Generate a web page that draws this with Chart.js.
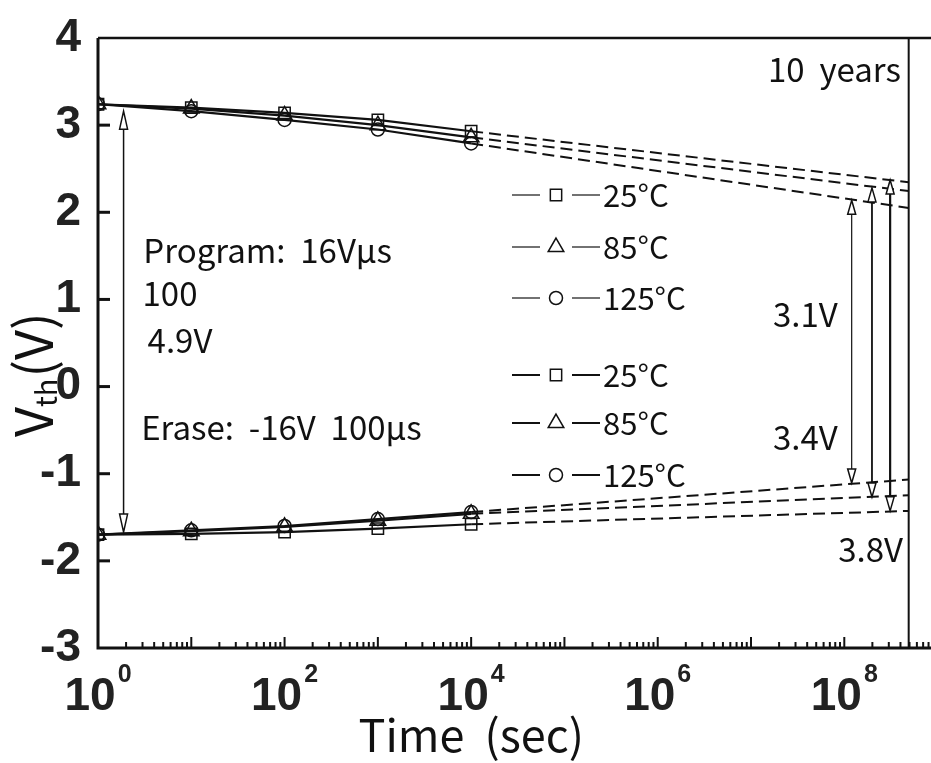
<!DOCTYPE html>
<html><head><meta charset="utf-8">
<script src="https://cdn.jsdelivr.net/npm/chart.js@4.4.1/dist/chart.umd.min.js"></script>
<style>html,body{margin:0;padding:0;background:#fff;overflow:hidden}</style>
</head><body>
<canvas id="c" width="931" height="763"></canvas>
<script>
// ---- data ----
const times = [1, 10, 100, 1000, 10000];
const prog25  = [3.24, 3.20, 3.14, 3.06, 2.93];
const prog85  = [3.24, 3.19, 3.11, 3.00, 2.86];
const prog125 = [3.24, 3.16, 3.06, 2.95, 2.79];
const erase25  = [-1.70, -1.69, -1.67, -1.63, -1.58];
const erase85  = [-1.70, -1.66, -1.61, -1.54, -1.46];
const erase125 = [-1.70, -1.65, -1.60, -1.52, -1.44];
const tenYears = 4.9e8;
const extrapTimes = [10000, tenYears];
const progEnd  = [2.345, 2.243, 2.05];    // 25, 85, 125 C at 10 years
const eraseEnd = [-1.427, -1.247, -1.067];
const gapArrowTimes  = [1.88, 1.2e8, 1.98e8, 3.1e8];
const gapArrowTop    = [3.16, 2.137, 2.28, 2.37];
const gapArrowBottom = [-1.67, -1.106, -1.267, -1.426];
const xTickExponents = ['0', '2', '4', '6', '8'];
const xMax = 8.5e8;
const legendLabels = ['25\u00b0C', '85\u00b0C', '125\u00b0C', '25\u00b0C', '85\u00b0C', '125\u00b0C'];
const notes = [
  {text: 'Program:  16V\u03bcs', t: 3.06, v: 1.42, align: 'left'},
  {text: '100', t: 3.0, v: 0.927, align: 'left'},
  {text: '4.9V', t: 3.4, v: 0.389, align: 'left'},
  {text: 'Erase:  -16V  100\u03bcs', t: 2.9, v: -0.618, align: 'left'},
  {text: '10  years', t: 4.05e8, v: 3.50, align: 'right'},
  {text: '3.1V', t: 1.72e7, v: 0.678, align: 'left'},
  {text: '3.4V', t: 1.72e7, v: -0.732, align: 'left'},
  {text: '3.8V', t: 8.6e7, v: -2.014, align: 'left'}
];

const FONT_TXT = '"Noto Sans CJK KR", "Noto Sans", sans-serif';
const FONT_NUM = '"Liberation Sans", Arial, sans-serif';
const INK = '#111';

function pts(ts, vs) { return ts.map((t, i) => ({x: t, y: vs[i]})); }
const styles = ['rect', 'triangle', 'circle'];
const radii = [8, 9, 6.5];
function solid(vals, k) {
  return {data: pts(times, vals), borderColor: INK, borderWidth: 2.2, pointStyle: styles[k],
    pointRadius: radii[k], pointBorderWidth: 1.5, pointBorderColor: INK,
    pointBackgroundColor: 'rgba(0,0,0,0)', tension: 0};
}
function dashed(v0, v1) {
  return {data: pts(extrapTimes, [v0, v1]), borderColor: INK, borderWidth: 2, borderDash: [12, 6],
    pointRadius: 0, tension: 0};
}
const datasets = [
  solid(prog25, 0), solid(prog85, 1), solid(prog125, 2),
  solid(erase25, 0), solid(erase85, 1), solid(erase125, 2),
  dashed(prog25[4], progEnd[0]), dashed(prog85[4], progEnd[1]), dashed(prog125[4], progEnd[2]),
  dashed(erase25[4], eraseEnd[0]), dashed(erase85[4], eraseEnd[1]), dashed(erase125[4], eraseEnd[2])
];

function arrowHead(ctx, x, tip, dir, L, w) {
  ctx.beginPath();
  ctx.moveTo(x, tip);
  ctx.lineTo(x - w, tip + dir * L);
  ctx.lineTo(x + w, tip + dir * L);
  ctx.closePath();
  ctx.fillStyle = '#fff'; ctx.fill(); ctx.stroke();
}

const decor = {
  id: 'decor',
  afterDatasetsDraw(chart) {
    const ctx = chart.ctx, a = chart.chartArea, xs = chart.scales.x, ys = chart.scales.y;
    ctx.save();
    ctx.strokeStyle = INK; ctx.fillStyle = INK; ctx.lineCap = 'butt';
    // frame
    ctx.lineWidth = 3;
    ctx.beginPath(); ctx.moveTo(a.left, a.top); ctx.lineTo(a.left, a.bottom); ctx.lineTo(a.right, a.bottom); ctx.stroke();
    ctx.lineWidth = 2.5;
    ctx.beginPath(); ctx.moveTo(a.left, a.top); ctx.lineTo(a.right, a.top); ctx.stroke();
    const xt = xs.getPixelForValue(tenYears);
    ctx.lineWidth = 2;
    ctx.beginPath(); ctx.moveTo(xt, a.top); ctx.lineTo(xt, a.bottom); ctx.stroke();
    // y ticks (inward)
    ctx.lineWidth = 3;
    ys.ticks.forEach(t => {
      if (t.value <= ys.min || t.value >= ys.max) return;
      const y = ys.getPixelForValue(t.value);
      ctx.beginPath(); ctx.moveTo(a.left, y); ctx.lineTo(a.left + 12, y); ctx.stroke();
    });
    // x ticks (inward)
    ctx.lineWidth = 2;
    xs.ticks.forEach(t => {
      const v = t.value; if (v <= xs.min) return;
      const lg = Math.log10(v);
      const major = Math.abs(lg - Math.round(lg)) < 1e-6;
      const x = xs.getPixelForValue(v);
      ctx.beginPath(); ctx.moveTo(x, a.bottom); ctx.lineTo(x, a.bottom - (major ? 11 : 6)); ctx.stroke();
    });
    // x tick labels 10^n
    ctx.fillStyle = '#222';
    ctx.textBaseline = 'alphabetic'; ctx.textAlign = 'left';
    xTickExponents.forEach(e => {
      const x = xs.getPixelForValue(Math.pow(10, +e));
      ctx.font = 'bold 46px ' + FONT_NUM;
      const w1 = ctx.measureText('10').width;
      ctx.font = 'bold 25px ' + FONT_NUM;
      const w2 = ctx.measureText(e).width;
      const x0 = x - (w1 + w2 + 2) / 2;
      ctx.font = 'bold 46px ' + FONT_NUM;
      ctx.fillText('10', x0, a.bottom + 62);
      ctx.font = 'bold 25px ' + FONT_NUM;
      ctx.fillText(e, x0 + w1 + 2, a.bottom + 34);
    });
    // axis titles
    ctx.fillStyle = INK;
    ctx.font = '45px ' + FONT_TXT;
    ctx.textAlign = 'center';
    ctx.fillText('Time  (sec)', xs.getPixelForValue(1e4), 752);
    ctx.save();
    ctx.translate(53, 437); ctx.rotate(-Math.PI / 2);
    ctx.textAlign = 'left';
    ctx.font = '52px ' + FONT_TXT;
    const wV = ctx.measureText('V').width;
    ctx.fillText('V', 0, 0);
    ctx.font = '29px ' + FONT_TXT;
    const wth = ctx.measureText('th').width;
    ctx.fillText('th', wV, 4);
    ctx.font = '52px ' + FONT_TXT;
    ctx.fillText('(V)', wV + wth + 1, 0);
    ctx.restore();
    // notes
    ctx.font = '33px ' + FONT_TXT;
    notes.forEach(n => {
      ctx.textAlign = n.align;
      ctx.fillText(n.text, xs.getPixelForValue(n.t), ys.getPixelForValue(n.v));
    });
    // arrows
    gapArrowTimes.forEach((t, i) => {
      const x = xs.getPixelForValue(t);
      const y1 = ys.getPixelForValue(gapArrowTop[i]);
      const y2 = ys.getPixelForValue(gapArrowBottom[i]);
      const L = i === 0 ? 18 : 14, w = 4;
      ctx.lineWidth = i === 0 ? 1.5 : (i === 1 ? 1.2 : (i === 2 ? 1.8 : 2.2));
      ctx.strokeStyle = INK;
      ctx.beginPath(); ctx.moveTo(x, y1 + L); ctx.lineTo(x, y2 - L); ctx.stroke();
      ctx.lineWidth = 1.5;
      arrowHead(ctx, x, y1, 1, L, w);
      arrowHead(ctx, x, y2, -1, L, w);
    });
    // legend
    const rowsY = [195, 247, 298, 375, 423, 475];
    const lx = 512;
    rowsY.forEach((ry, i) => {
      const ds = chart.data.datasets[i];
      ctx.strokeStyle = i < 3 ? '#444' : INK;
      ctx.lineWidth = i < 3 ? 1.5 : 2;
      ctx.beginPath(); ctx.moveTo(lx, ry); ctx.lineTo(lx + 28, ry); ctx.moveTo(lx + 60, ry); ctx.lineTo(lx + 88, ry); ctx.stroke();
      ctx.strokeStyle = INK; ctx.fillStyle = '#fff'; ctx.lineWidth = 1.5;
      Chart.helpers.drawPoint(ctx, {pointStyle: ds.pointStyle, radius: ds.pointRadius, borderWidth: 1.5, rotation: 0}, lx + 44, ry);
      ctx.fillStyle = INK;
      ctx.font = '31px ' + FONT_TXT;
      ctx.textAlign = 'left';
      ctx.fillText(legendLabels[i], lx + 91, ry + 12);
    });
    ctx.restore();
  }
};

new Chart(document.getElementById('c'), {
  type: 'line',
  data: {datasets},
  options: {
    responsive: false, animation: false, events: [],
    layout: {autoPadding: false, padding: {top: 38, left: 0, right: 0, bottom: 0}},
    plugins: {legend: {display: false}, tooltip: {enabled: false}},
    scales: {
      x: {type: 'logarithmic', min: 1, max: xMax,
        grid: {display: false, drawTicks: false}, border: {display: false},
        ticks: {display: false},
        afterBuildTicks(s) {
          const tk = [];
          for (let e = 0; e <= 9; e++) for (let m = 1; m <= 9; m++) {
            const v = m * Math.pow(10, e); if (v <= s.max) tk.push({value: v});
          }
          s.ticks = tk;
        },
        afterFit(s) { s.height = 115; s.paddingLeft = 0; s.paddingRight = 0; }
      },
      y: {min: -3, max: 4,
        ticks: {stepSize: 1, color: '#222', padding: 17, font: {family: FONT_NUM, size: 46, weight: 'bold'}},
        grid: {display: false, drawTicks: false}, border: {display: false},
        afterFit(s) { s.width = 98; s.paddingTop = 0; s.paddingBottom = 0; }
      }
    }
  },
  plugins: [decor]
});
</script>
</body></html>
